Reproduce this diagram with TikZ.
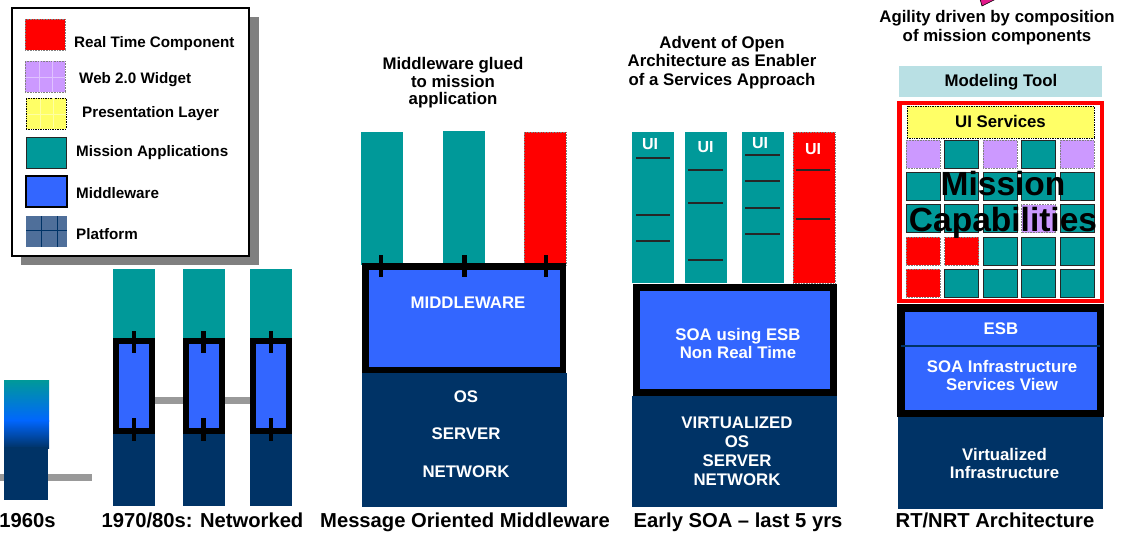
\documentclass[tikz,border=0pt]{standalone}
\usepackage{fontspec}
\setmainfont{Liberation Sans}
\usetikzlibrary{backgrounds,calc}

\definecolor{mission}{HTML}{009999}
\definecolor{mware}{HTML}{3366FF}
\definecolor{platf}{HTML}{003366}
\definecolor{platlight}{HTML}{4F6F9A}
\definecolor{rtred}{HTML}{FF0000}
\definecolor{widget}{HTML}{CC99FF}
\definecolor{present}{HTML}{FFFF66}
\definecolor{modtool}{HTML}{B9E0E4}
\definecolor{netgray}{HTML}{999999}
\definecolor{blue60}{HTML}{0066FF}
\definecolor{pinkarrow}{HTML}{E2198A}

\tikzset{
  box/.style={inner sep=0pt, outer sep=0pt, anchor=north west},
  sz/.style 2 args={minimum width=#1, minimum height=#2},
  appbox/.style={box, fill=mission},
  rtbox/.style={box, fill=rtred, draw=gray, densely dotted, line width=0.6pt},
  platbox/.style={box, fill=platf},
  mwframe/.style={box, fill=mware, draw=black},
  tsq/.style={box, sz={34}{28}, fill=mission, draw=black!85, line width=0.8pt},
  wsq/.style={box, sz={34}{28}, fill=widget, draw=gray, densely dotted, line width=0.6pt},
  rsq/.style={box, sz={34}{28}, fill=rtred, draw=gray, densely dotted, line width=0.6pt},
  pin/.style={line width=4.5pt, black},
  netline/.style={line width=7pt, netgray},
  sepline/.style={line width=1.2pt, black!85},
  lgd/.style={font=\fontsize{15.2}{18}\selectfont\bfseries, anchor=base west, inner sep=0pt},
  ttl/.style={font=\fontsize{16.8}{18.5}\selectfont\bfseries, align=center, anchor=base, inner sep=0pt},
  wtxt/.style={ttl, text=white},
  era/.style={font=\fontsize{20.2}{24}\selectfont\bfseries, anchor=base, inner sep=0pt}
}

\begin{document}
\begin{tikzpicture}[x=1pt, y=-1pt]

\useasboundingbox (0,0) rectangle (1126,540);

% legend
\fill[black!50] (21,17) rectangle (259,265);
\node[box, sz={237}{248}, fill=white, draw=black, line width=1.5pt] (legend) at (12,8) {};
\node[rtbox, sz={40}{31}] (lgred) at (25,19) {};
\node[lgd] (lgredtxt) at (74,47.5) {Real Time Component};
\node[box, sz={40}{31}, fill=widget, draw=gray, densely dotted, line width=0.6pt] (lgwid) at (25,61) {};
\draw[widget!60!white, line width=0.5pt] (39,61) -- (39,92) (52,61) -- (52,92) (25,77) -- (65,77);
\node[lgd] (lgwidtxt) at (79,84) {Web 2.0 Widget};
\node[box, sz={40}{31}, fill=present, draw=black, densely dotted, line width=0.7pt] (lgpres) at (26,98) {};
\draw[present!60!white, line width=0.5pt] (40,98.5) -- (40,128.5) (53,98.5) -- (53,128.5) (26.5,114) -- (65.5,114);
\node[lgd] (lgprestxt) at (82,118) {Presentation Layer};
\node[appbox, sz={40}{31}, draw=black!85, line width=0.8pt] (lgapp) at (26,137) {};
\node[lgd] (lgapptxt) at (76,157) {Mission Applications};
\node[mwframe, sz={41}{31}, line width=1.5pt] (lgmw) at (26,176) {};
\node[lgd] (lgmwtxt) at (76,198) {Middleware};
\node[box, sz={41}{31}, fill=platlight] (lgplat) at (26,216) {};
\draw[platf, line width=1pt] (41.7,216) -- (41.7,247) (57.3,216) -- (57.3,247) (26,230.7) -- (67,230.7);
\node[lgd] (lgplattxt) at (76,239) {Platform};

% 1960s
\coordinate (n60a) at (0,477.5);
\coordinate (n60b) at (92,477.5);
\draw[netline] (n60a) -- (n60b);
\shade[top color=mission, bottom color=blue60] (4,380) rectangle (49,421);
\shade[top color=blue60, bottom color=platf] (4,420) rectangle (49,448);
\node[platbox, sz={44}{53}] (os60) at (4,447) {};
\node[era] (l60) at (27.5,527) {1960s};

% 1970/80s
\foreach \x/\n in {113/1,182.5/2,250/3}{
  \node[appbox, sz={42}{72}] (app7\n) at (\x,269) {};
  \node[platbox, sz={42}{72}] (os7\n) at (\x,434) {};
  \node[mwframe, sz={36}{90}, line width=6pt] (mw7\n) at (\x+3,341) {};
  \draw[pin] ($(mw7\n.north)+(0,-10)$) -- ($(mw7\n.north)+(0,12)$);
  \draw[pin] ($(mw7\n.south)+(0,-13)$) -- ($(mw7\n.south)+(0,10)$);
}
\begin{scope}[on background layer]
  \draw[netline] ([yshift=-14.5pt]mw71.center) -- ([yshift=-14.5pt]mw73.center);
\end{scope}
\node[era] (l70) at (202.5,527) {1970/80s: Networked};

% message oriented middleware
\node[ttl, font=\fontsize{16.8}{17.5}\selectfont\bfseries] (tmom) at (453,105) {Middleware glued\\to mission\\application};
\node[appbox, sz={42}{133}] (appm1) at (361,132) {};
\node[appbox, sz={42}{134}] (appm2) at (443,131) {};
\node[rtbox, sz={42}{133}] (appm3) at (524,132) {};
\node[mwframe, sz={197.5}{103.5}, line width=6.5pt] (mwm) at (365.25,266.25) {};
\foreach \t in {381,464.5,546}
  \draw[pin] (\t,255) -- (\t,277);
\node[wtxt] (mwmtxt) at (468,308) {MIDDLEWARE};
\node[platbox, sz={205}{134}] (osm) at (362,373) {};
\node[wtxt, font=\fontsize{16.8}{37.5}\selectfont\bfseries] (osmtxt) at (466,477) {OS\\SERVER\\NETWORK};
\node[era] (lmom) at (465,527) {Message Oriented Middleware};

% early SOA
\node[ttl, font=\fontsize{16.8}{18.8}\selectfont\bfseries] (tsoa) at (722,85.7) {Advent of Open\\Architecture as Enabler\\of a Services Approach};
\node[appbox, sz={42}{151}] (apps1) at (632,132) {};
\node[appbox, sz={42}{151}] (apps2) at (685,132) {};
\node[appbox, sz={42}{151}] (apps3) at (742,132) {};
\node[rtbox, sz={42}{151}] (apps4) at (793,132) {};
\foreach \x/\y in {650/150,705.5/153,760/149,813/155}
  \node[wtxt, font=\fontsize{16}{18}\selectfont\bfseries] at (\x,\y) {UI};
\foreach \y in {158,215,241} \draw[sepline] (636,\y) -- (670,\y);
\foreach \y in {170,203,260} \draw[sepline] (688,\y) -- (723,\y);
\foreach \y in {155,181,208,234} \draw[sepline] (745,\y) -- (780,\y);
\foreach \y in {170,219} \draw[sepline] (796,\y) -- (830,\y);
\node[mwframe, sz={197}{105}, line width=7pt] (esbs) at (636.5,287.5) {};
\node[wtxt] (esbstxt) at (738,358.5) {SOA using ESB\\Non Real Time};
\node[platbox, sz={205}{111}] (oss) at (632,396) {};
\node[wtxt, font=\fontsize{16.8}{19.2}\selectfont\bfseries] (osstxt) at (737,485.6) {VIRTUALIZED\\OS\\SERVER\\NETWORK};
\node[era] (lsoa) at (738,527) {Early SOA -- last 5 yrs};

% RT/NRT architecture
\filldraw[fill=pinkarrow, draw=black, line width=0.6pt] (980,-1) -- (996,-1) -- (982,6) -- cycle;
\node[ttl, font=\fontsize{16.8}{18.7}\selectfont\bfseries] (trt) at (997,41.7) {Agility driven by composition\\of mission components};
\node[box, sz={203}{31}, fill=modtool] (model) at (899,66) {};
\node[ttl] (modeltxt) at (1001,87) {Modeling Tool};
\node[box, sz={202.5}{197.5}, fill=white, draw=rtred, line width=4.5pt] (capframe) at (899.25,103.25) {};
\node[box, sz={187}{32}, fill=present, draw=black, densely dotted, line width=0.7pt] (uisrv) at (907,106) {};
\node[ttl] (uisrvtxt) at (1000.5,128) {UI Services};
\foreach \c/\r in {1/0,3/0,0/1,1/1,2/1,3/1,4/1,0/2,1/2,2/2,4/2,2/3,3/3,4/3,1/4,2/4,3/4,4/4}
  \node[tsq] (sq\c\r) at (906+38.5*\c,140+32.3*\r) {};
\foreach \c/\r in {0/0,2/0,4/0,3/2}
  \node[wsq] (sq\c\r) at (906+38.5*\c,140+32.3*\r) {};
\foreach \c/\r in {0/3,1/3,0/4}
  \node[rsq] (sq\c\r) at (906+38.5*\c,140+32.3*\r) {};
\node[ttl, font=\fontsize{33.5}{36}\selectfont\bfseries] (captxt) at (1003,231) {Mission\\Capabilities};
\node[mwframe, sz={199.5}{105.5}, line width=7.5pt] (esbr) at (900.75,307.75) {};
\draw[line width=2pt, platf] (esbr.west |- 0,346) -- (esbr.east |- 0,346);
\node[wtxt] (esbrtxt) at (1001,334) {ESB};
\node[wtxt, font=\fontsize{16.8}{18}\selectfont\bfseries] (soartxt) at (1002,390) {SOA Infrastructure\\Services View};
\node[platbox, sz={205}{92}] (osr) at (898,417) {};
\node[wtxt, font=\fontsize{16.8}{18}\selectfont\bfseries] (osrtxt) at (1004.5,478) {Virtualized\\Infrastructure};
\node[era] (lrt) at (995,527) {RT/NRT Architecture};

\end{tikzpicture}
\end{document}
